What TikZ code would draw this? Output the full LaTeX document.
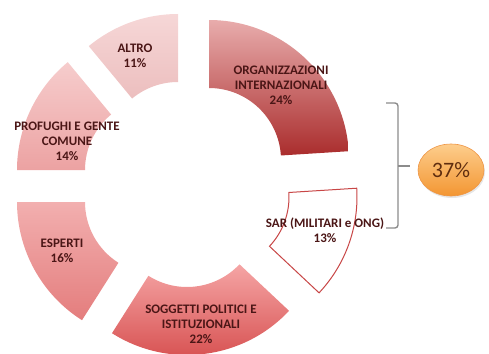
\documentclass[tikz,border=0pt]{standalone}
\usepackage{fontspec}
\setmainfont{Carlito}
\usetikzlibrary{shapes.geometric,shadows}
\definecolor{labelc}{RGB}{75,22,22}
\definecolor{pctc}{RGB}{95,45,15}
\definecolor{bracec}{RGB}{140,140,140}
\definecolor{sarline}{RGB}{200,70,70}
\newcommand{\ringseg}[5]{%
  \path[#5, shift={(#1,#2)}] ({#3-90}:140) arc[start angle={#3-90}, end angle={#4-90}, radius=140]
    -- ({#4-90}:72) arc[start angle={#4-90}, end angle={#3-90}, radius=72] -- cycle;}
\begin{document}
\begin{tikzpicture}[x=1pt,y=-1pt,
  lab/.style={font=\bfseries\fontsize{13}{15}\selectfont, text=labelc, align=center, inner sep=0pt},
  bracestyle/.style={draw=bracec, line width=1.4pt, rounded corners=3pt}]
\useasboundingbox (0,0) rectangle (489,353);
% ring segments
\ringseg{209}{160}{0}{86.4}{top color={rgb,255:red,232;green,172;blue,172}, bottom color={rgb,255:red,170;green,45;blue,45}}
\ringseg{217}{197}{86.4}{133.2}{fill=white, draw=sarline, line width=1pt}
\ringseg{187}{215}{133.2}{212.4}{top color={rgb,255:red,245;green,165;blue,165}, bottom color={rgb,255:red,212;green,72;blue,72}}
\ringseg{157}{202}{212.4}{270}{top color={rgb,255:red,242;green,175;blue,175}, bottom color={rgb,255:red,228;green,125;blue,125}}
\ringseg{157}{170}{270}{320.4}{top color={rgb,255:red,246;green,205;blue,205}, bottom color={rgb,255:red,236;green,162;blue,162}}
\ringseg{178}{154}{320.4}{360}{top color={rgb,255:red,246;green,215;blue,215}, bottom color={rgb,255:red,236;green,190;blue,190}}
% labels
\node[lab] (altro) at (135,56) {ALTRO\\11\%};
\node[lab] (org) at (281,85) {ORGANIZZAZIONI\\INTERNAZIONALI\\24\%};
\node[lab] (prof) at (67,141) {PROFUGHI E GENTE\\COMUNE\\14\%};
\node[lab] (esp) at (62,251) {ESPERTI\\16\%};
\node[lab] (sog) at (201,324) {SOGGETTI POLITICI E\\ISTITUZIONALI\\22\%};
\node[lab] (sar) at (325,230) {SAR (MILITARI e ONG)\\13\%};
% bracket
\coordinate (bt) at (386,103);
\coordinate (bb) at (386,228);
\coordinate (bm) at (398,166);
\coordinate (btip) at (410,166);
\draw[bracestyle] (bt) -- (398,103) -- (398,228) -- (bb);
\draw[bracestyle] (bm) -- (btip);
% ellipse
\node[ellipse, minimum width=66pt, minimum height=52pt, inner sep=0pt,
  top color={rgb,255:red,253;green,205;blue,140}, bottom color={rgb,255:red,243;green,150;blue,50},
  draw={rgb,255:red,238;green,150;blue,70}, line width=0.6pt,
  drop shadow={opacity=0.2, shadow xshift=1pt, shadow yshift=-2pt},
  text=pctc, font=\fontsize{22}{24}\selectfont] (pct) at (451,170) {37\%};
\end{tikzpicture}
\end{document}
